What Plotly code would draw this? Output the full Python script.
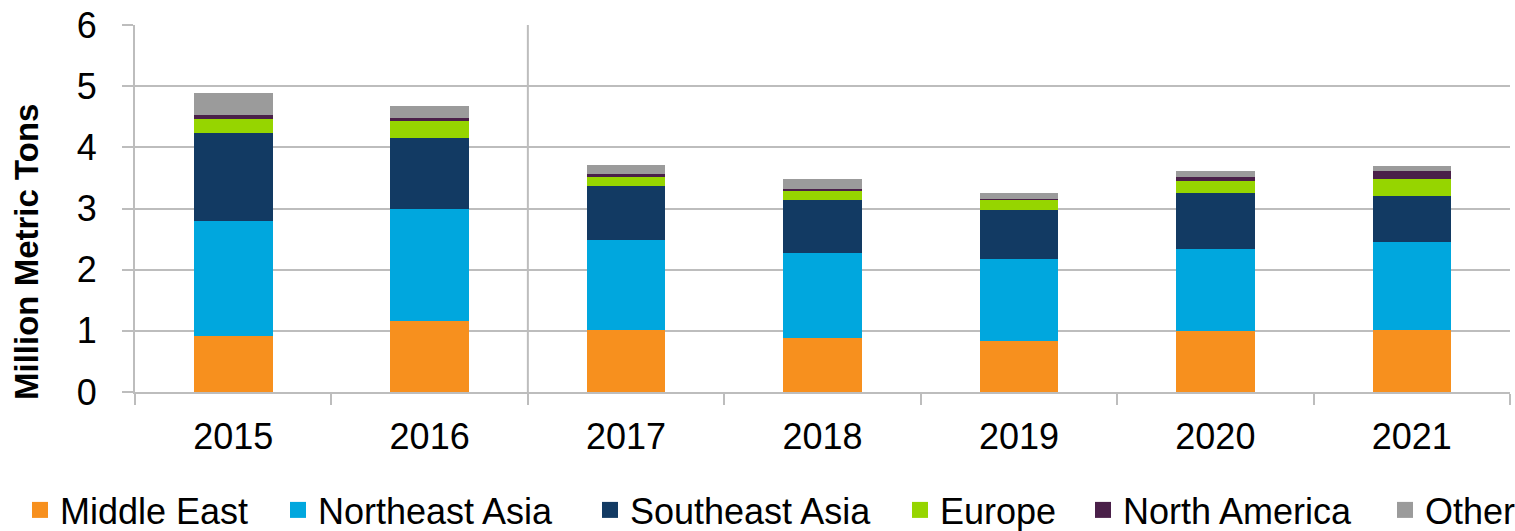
import plotly.graph_objects as go

years = ["2015", "2016", "2017", "2018", "2019", "2020", "2021"]
middle_east    = [0.92, 1.16, 1.01, 0.88, 0.83, 1.00, 1.01]
northeast_asia = [1.88, 1.84, 1.47, 1.40, 1.34, 1.33, 1.44]
southeast_asia = [1.44, 1.16, 0.89, 0.86, 0.80, 0.92, 0.75]
europe         = [0.22, 0.27, 0.14, 0.16, 0.17, 0.20, 0.28]
north_america  = [0.07, 0.05, 0.05, 0.02, 0.02, 0.06, 0.13]
other          = [0.36, 0.20, 0.15, 0.16, 0.09, 0.10, 0.09]

series_names = ["Middle East", "Northeast Asia", "Southeast Asia", "Europe", "North America", "Other"]
series_values = [middle_east, northeast_asia, southeast_asia, europe, north_america, other]
colors = ["#F7901E", "#00A7DE", "#123A63", "#96D500", "#4A2049", "#9B9B9B"]
y_ticks = [0, 1, 2, 3, 4, 5, 6]
y_title = "Million Metric Tons"

FONT = "Liberation Sans, Arial, sans-serif"
GRID = "#BDBDBD"

# plot area geometry (px)
L, R, T, B = 135, 5, 25, 139
W, H = 1515, 531
pw, ph = W - L - R, H - T - B

# legend box centers in page px
legend_box_centers = [40, 298, 610, 920, 1103, 1405]

fig = go.Figure()
for name, vals, col in zip(series_names, series_values, colors):
    fig.add_trace(go.Bar(x=years, y=vals, name=name, marker=dict(color=col, line=dict(width=0)),
                         showlegend=False))

layout_legends = {}
for i, (name, col) in enumerate(zip(series_names, colors)):
    key = "legend" if i == 0 else f"legend{i+1}"
    fig.add_trace(go.Scatter(x=[None], y=[None], mode="markers", name=name,
                             marker=dict(symbol="square", size=16, color=col),
                             legend=key, showlegend=True))
    cx = legend_box_centers[i]
    layout_legends[key] = dict(
        x=(cx - 20 - L) / pw, xanchor="left",
        y=(T + ph - 510) / ph, yanchor="middle",
        orientation="h", bgcolor="rgba(0,0,0,0)", borderwidth=0,
        font=dict(family=FONT, size=36, color="#000000"),
        itemclick=False, itemdoubleclick=False,
    )

fig.update_layout(
    width=W, height=H,
    margin=dict(l=L, r=R, t=T, b=B, autoexpand=False),
    paper_bgcolor="white", plot_bgcolor="white",
    barmode="stack", bargap=0.6,
    font=dict(family=FONT, color="#000000"),
    xaxis=dict(
        type="category", tickson="boundaries", ticks="outside", ticklen=11,
        tickcolor=GRID, tickwidth=2, showgrid=False,
        showline=True, linecolor=GRID, linewidth=2,
        tickfont=dict(family=FONT, size=36, color="#000000"),
        ticklabelstandoff=12,
    ),
    yaxis=dict(
        range=[0, 6], tickvals=y_ticks, ticktext=[str(v) for v in y_ticks],
        ticks="outside", ticklen=11, tickcolor=GRID, tickwidth=2,
        showgrid=True, gridcolor=GRID, gridwidth=2,
        showline=True, linecolor=GRID, linewidth=2, zeroline=False,
        tickfont=dict(family=FONT, size=36, color="#000000"),
        ticklabelstandoff=18,
    ),
    annotations=[dict(text=f"<b>{y_title}</b>", xref="paper", yref="paper",
                      x=(27 - L) / pw, y=(T + ph - 252) / ph,
                      xanchor="center", yanchor="middle", textangle=-90, showarrow=False,
                      font=dict(family=FONT, size=33, color="#000000"))],
    shapes=[dict(type="line", xref="x", yref="paper", x0=1.5, x1=1.5, y0=0, y1=1,
                 line=dict(color=GRID, width=2), layer="below")],
    **layout_legends,
)

fig.write_html("out.html")
